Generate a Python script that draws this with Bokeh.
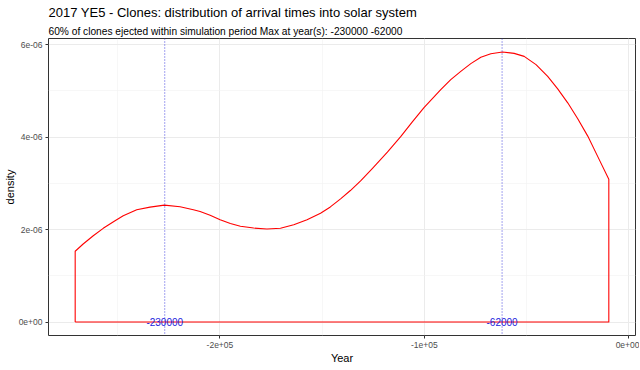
from bokeh.plotting import figure
from bokeh.models import (Title, Span, FixedTicker, CustomJSTickFormatter, Range1d)
from bokeh.core.properties import value
from bokeh.embed import file_html
from bokeh.resources import INLINE

# Density curve (year, density in units of 1e-6)
years = [-270800, -266900, -261960, -257100, -251300, -247300, -240700, -234200,
         -227200, -219500, -213000, -209700, -204800, -199900, -194900, -190000,
         -183500, -177000, -170400, -163900, -157400, -150800, -146000, -141000,
         -136200, -131200, -125500, -118100, -111600, -105900, -100200, -92000,
         -87100, -82200, -77300, -72400, -67500, -61800, -56100, -51200,
         -45400, -39700, -34800, -29900, -25000, -20100, -15200, -9800]
dens_e6 = [1.531, 1.688, 1.867, 2.027, 2.191, 2.298, 2.428, 2.486,
           2.529, 2.493, 2.428, 2.390, 2.310, 2.215, 2.130, 2.072,
           2.033, 2.012, 2.030, 2.105, 2.215, 2.355, 2.490, 2.665,
           2.845, 3.053, 3.320, 3.678, 4.010, 4.330, 4.640, 5.030,
           5.246, 5.425, 5.591, 5.731, 5.806, 5.843, 5.813, 5.748,
           5.569, 5.317, 5.045, 4.743, 4.398, 4.023, 3.579, 3.090]

max_years = [-227000, -62000]
max_labels = ["-230000", "-62000"]

x_ticks = [-200000, -100000, 0]
x_minor = [-250000, -150000, -50000]
y_ticks = [0, 2e-6, 4e-6, 6e-6]
y_minor = [1e-6, 3e-6, 5e-6]

title_text = "2017 YE5 - Clones: distribution of arrival times into solar system"
subtitle_text = "60% of clones ejected within simulation period Max at year(s): -230000 -62000"

FONT = "Liberation Sans"

dens = [d * 1e-6 for d in dens_e6]
# closed outline like geom_density
xs = [years[0]] + years + [years[-1], years[0]]
ys = [0.0] + dens + [0.0, 0.0]

xspan = years[-1] - years[0]
ymax = max(dens)

p = figure(frame_width=587, frame_height=297, output_backend="svg",
           toolbar_location=None, min_border_left=41, min_border_right=4,
           min_border_top=0, min_border_bottom=0,
           x_range=Range1d(years[0] - 0.05 * xspan, years[-1] + 0.05 * xspan),
           y_range=Range1d(-0.05 * ymax, ymax * 1.05))
p.background_fill_color = "white"
p.border_fill_color = "white"
p.outline_line_color = "#333333"
p.outline_line_width = 1

fmt = CustomJSTickFormatter(code="""
if (Math.abs(tick) < 1e-15) { return "0e+00"; }
var s = tick.toExponential(0);
var parts = s.split('e');
var e = parseInt(parts[1]);
var a = Math.abs(e);
return parts[0] + 'e' + (e < 0 ? '-' : '+') + (a < 10 ? '0' + a : '' + a);
""")

p.xaxis.ticker = FixedTicker(ticks=x_ticks, minor_ticks=x_minor)
p.yaxis.ticker = FixedTicker(ticks=y_ticks, minor_ticks=y_minor)
for ax in (p.xaxis[0], p.yaxis[0]):
    ax.formatter = fmt
    ax.axis_line_color = None
    ax.major_tick_line_color = "#333333"
    ax.major_tick_out = 3
    ax.major_tick_in = 0
    ax.minor_tick_line_color = None
    ax.major_label_text_font = FONT
    ax.major_label_text_font_size = "8.5px"
    ax.major_label_text_color = "#4D4D4D"
    ax.axis_label_text_font = FONT
    ax.axis_label_text_font_size = "11px"
    ax.axis_label_text_font_style = "normal"
    ax.axis_label_text_color = "black"
    ax.major_label_standoff = 2
    ax.axis_label_standoff = 1
p.yaxis[0].axis_label_standoff = 0
p.xaxis.axis_label = "Year"
p.yaxis.axis_label = "density"

for g in (p.xgrid[0], p.ygrid[0]):
    g.grid_line_color = "#EBEBEB"
    g.grid_line_width = 1
    g.minor_grid_line_color = "#F2F2F2"
    g.minor_grid_line_width = 0.6

for yr in max_years:
    p.add_layout(Span(location=yr, dimension="height", line_color="#3333dd",
                      line_dash="1 2", line_width=1, line_alpha=0.9))

p.line(xs, ys, line_color="#FF0000", line_width=1.1, line_join="round")

p.text(x=max_years, y=[0, 0], text=max_labels, text_color="#2222dd",
       text_font=value(FONT), text_font_size="10px",
       text_align="center", text_baseline="middle")

p.add_layout(Title(text=subtitle_text, align="left", text_font=FONT,
                   text_font_size="10.2px", text_font_style="normal",
                   text_color="black", standoff=4), "above")
p.add_layout(Title(text=title_text, align="left", text_font=FONT,
                   text_font_size="13px", text_font_style="normal",
                   text_color="black", standoff=4), "above")

open("out.html", "w").write(file_html(p, INLINE))
